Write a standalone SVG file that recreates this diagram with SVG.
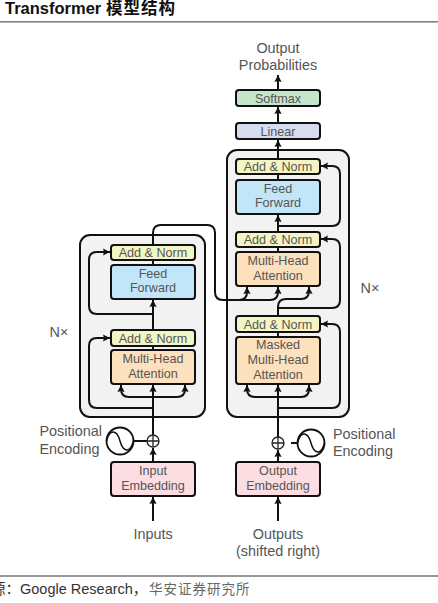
<svg xmlns="http://www.w3.org/2000/svg" width="438" height="603" viewBox="0 0 438 603">
<style>
text{font-family:"Liberation Sans","Noto Sans CJK SC",sans-serif;fill:#555;text-anchor:middle}
.b{font-size:12.6px}
.l{font-size:14.4px}
.s{text-anchor:start}
.box{stroke:#111;stroke-width:2;}
.an{fill:#f3f5c4}.ff{fill:#c2e6f7}.at{fill:#fde0bd}.em{fill:#fcdde2}
.c{fill:none;stroke:#111;stroke-width:2}
.a{marker-end:url(#ah)}
.con{fill:#f2f2f2;stroke:#111;stroke-width:2}
</style>
<defs>
<marker id="ah" markerUnits="userSpaceOnUse" markerWidth="10" markerHeight="10" refX="7" refY="5" orient="auto"><path d="M0,1.4L7,5L0,8.600L1,5Z" fill="#111"/></marker>
</defs>
<rect width="438" height="603" fill="#fff"/>
<g id="header">
<text x="5" y="14" class="s" style="font-size:16.5px;font-weight:bold;fill:#111">Transformer <tspan style="letter-spacing:1px">模型结构</tspan></text>
<rect x="0" y="21" width="438" height="1.6" fill="#808080"/>
</g>
<g id="encoder-stack"><rect class="con" x="80" y="235" width="125" height="182" rx="10"/></g>
<g id="decoder-stack"><rect class="con" x="227" y="150" width="122" height="267" rx="10"/></g>
<g id="connectors">
<path class="c a" d="M278 89V75"/>
<path class="c a" d="M278 122V107"/>
<path class="c a" d="M278 158V140"/>
<path class="c" d="M278 180V174"/>
<path class="c a" d="M278 231V215"/>
<path class="c" d="M278 252V247"/>
<path class="c" d="M278 337V332"/>
<path class="c a" d="M278 226H332Q340 226 340 218V174Q340 166 332 166H321"/>
<path class="c a" d="M278 316V307Q278 299 286 299H301Q309 299 309 291V287"/>
<path class="c a" d="M278 308H332Q340 308 340 300V247Q340 239 332 239H321"/>
<path class="c a" d="M278 408H332Q340 408 340 400V332Q340 324 332 324H321"/>
<path class="c a" d="M278 462V450"/>
<path class="c a" d="M278 437V385"/>
<path class="c a" d="M278 397H255Q247 397 247 389V385"/>
<path class="c a" d="M278 397H301Q309 397 309 389V385"/>
<path class="c" d="M291 443H298"/>
<path class="c a" d="M278 521V497"/>
<path class="c a" d="M153 462V448"/>
<path class="c a" d="M153 435V385"/>
<path class="c a" d="M153 397H129Q121 397 121 389V385"/>
<path class="c a" d="M153 397H177Q185 397 185 389V385"/>
<path class="c" d="M134 441H147"/>
<path class="c a" d="M153 521V497"/>
<path class="c a" d="M153 408H97Q89 408 89 400V346Q89 338 97 338H110"/>
<path class="c" d="M153 350V346"/>
<path class="c a" d="M153 330V300"/>
<path class="c a" d="M153 314H97Q89 314 89 306V260Q89 252 97 252H110"/>
<path class="c" d="M153 265V260"/>
<path class="c a" d="M153 245V233Q153 225 161 225H207Q215 225 215 233V292Q215 300 223 300H270Q278 300 278 292V287"/>
<path class="c a" d="M239 300Q247 300 247 292V287"/>
</g>
<g id="output-label"><text class="l" x="278" y="53">Output</text><text class="l" x="278" y="70">Probabilities</text></g>
<g id="softmax"><rect class="box" x="236" y="90" width="84" height="16" rx="3" fill="#c6e6cc"/><text class="b" x="278" y="102.500">Softmax</text></g>
<g id="linear"><rect class="box" x="236" y="123" width="84" height="16" rx="3" fill="#d8dcf0"/><text class="b" x="278" y="135.500">Linear</text></g>
<g id="dec-addnorm-3"><rect class="box an" x="236" y="159" width="84" height="15" rx="3"/><text class="b" x="278" y="171">Add &amp; Norm</text></g>
<g id="dec-feedforward"><rect class="box ff" x="236" y="180" width="84" height="34" rx="3"/><text class="b" x="278" y="193">Feed</text><text class="b" x="278" y="207">Forward</text></g>
<g id="dec-addnorm-2"><rect class="box an" x="236" y="232" width="84" height="15" rx="3"/><text class="b" x="278" y="244">Add &amp; Norm</text></g>
<g id="dec-attention"><rect class="box at" x="236" y="252" width="84" height="34" rx="3"/><text class="b" x="278" y="265">Multi-Head</text><text class="b" x="278" y="280">Attention</text></g>
<g id="dec-addnorm-1"><rect class="box an" x="236" y="316" width="84" height="16" rx="3"/><text class="b" x="278" y="328.500">Add &amp; Norm</text></g>
<g id="dec-masked"><rect class="box at" x="236" y="337" width="84" height="47" rx="3"/><text class="b" x="278" y="349">Masked</text><text class="b" x="278" y="364">Multi-Head</text><text class="b" x="278" y="379">Attention</text></g>
<g id="enc-addnorm-2"><rect class="box an" x="111" y="245" width="84" height="15" rx="3"/><text class="b" x="153" y="257">Add &amp; Norm</text></g>
<g id="enc-feedforward"><rect class="box ff" x="111" y="265" width="84" height="34" rx="3"/><text class="b" x="153" y="278">Feed</text><text class="b" x="153" y="292">Forward</text></g>
<g id="enc-addnorm-1"><rect class="box an" x="111" y="330" width="84" height="16" rx="3"/><text class="b" x="153" y="342.500">Add &amp; Norm</text></g>
<g id="enc-attention"><rect class="box at" x="111" y="350" width="84" height="34" rx="3"/><text class="b" x="153" y="363">Multi-Head</text><text class="b" x="153" y="378">Attention</text></g>
<g id="enc-nx"><text class="l" x="59" y="337">N×</text></g>
<g id="dec-nx"><text class="l" x="370" y="293">N×</text></g>
<g id="enc-embedding"><rect class="box em" x="111" y="462" width="84" height="34" rx="3"/><text class="b" x="153" y="475">Input</text><text class="b" x="153" y="490">Embedding</text></g>
<g id="dec-embedding"><rect class="box em" x="236" y="462" width="84" height="34" rx="3"/><text class="b" x="278" y="475">Output</text><text class="b" x="278" y="490">Embedding</text></g>
<g id="enc-add"><circle cx="153" cy="441" r="6" fill="#fff" stroke="#222" stroke-width="1.300"/><path d="M147 441H159M153 435V447" stroke="#222" stroke-width="1.300"/></g>
<g id="dec-add"><circle cx="278" cy="443" r="6" fill="#fff" stroke="#222" stroke-width="1.300"/><path d="M272 443H284M278 437V449" stroke="#222" stroke-width="1.300"/></g>
<g id="enc-pe"><circle cx="120" cy="441" r="13.500" fill="#fff" stroke="#111" stroke-width="1.800"/><path d="M106.500 441C110 428 117 430 120 441S130 454 133.500 441" fill="none" stroke="#111" stroke-width="1.500"/><text class="l s" x="39.500" y="436">Positional</text><text class="l s" x="39.500" y="454">Encoding</text></g>
<g id="dec-pe"><circle cx="311" cy="443" r="13.500" fill="#fff" stroke="#111" stroke-width="1.800"/><path d="M297.500 443C301 430 308 432 311 443S321 456 324.500 443" fill="none" stroke="#111" stroke-width="1.500"/><text class="l s" x="333" y="439">Positional</text><text class="l s" x="333" y="456">Encoding</text></g>
<g id="inputs-label"><text class="l" x="153" y="539">Inputs</text></g>
<g id="outputs-label"><text class="l" x="278" y="539">Outputs</text><text class="l" x="278" y="556">(shifted right)</text></g>
<g id="footer">
<rect x="0" y="575.500" width="438" height="1" fill="#333"/>
<text class="s" x="-9" y="594" style="font-size:14.500px;fill:#333">源：Google Research，<tspan x="149" style="font-size:13.500px;fill:#666;letter-spacing:1px">华安证券研究所</tspan></text>
</g>
</svg>
